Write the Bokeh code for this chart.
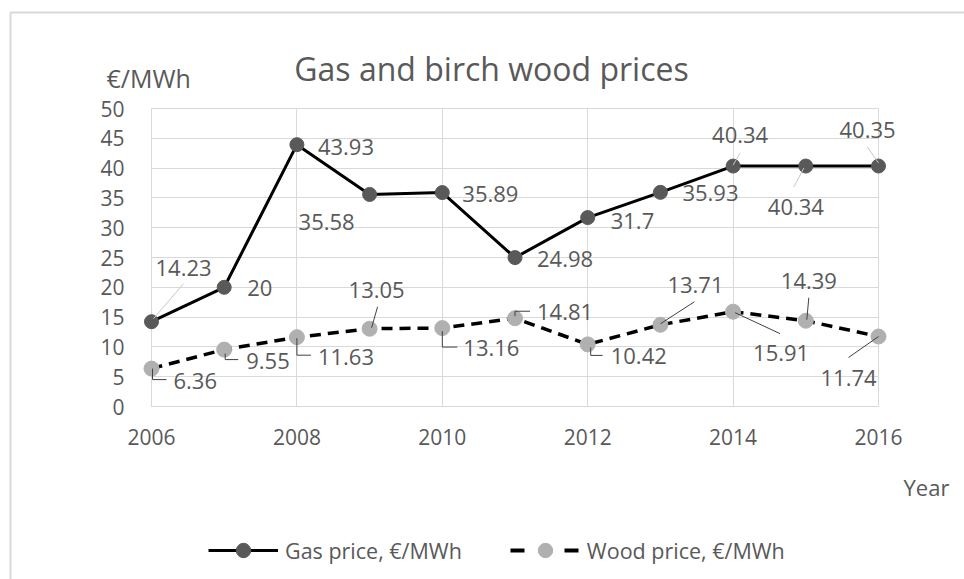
from bokeh.plotting import figure
from bokeh.models import (ColumnDataSource, LabelSet, Label, Legend, LegendItem,
                          FixedTicker, Range1d, Grid)
from bokeh.core.properties import value
from bokeh.embed import file_html
from bokeh.resources import INLINE

# ---------------- data ----------------
years = [2006, 2007, 2008, 2009, 2010, 2011, 2012, 2013, 2014, 2015, 2016]
gas_price = [14.23, 20, 43.93, 35.58, 35.89, 24.98, 31.7, 35.93, 40.34, 40.34, 40.35]
wood_price = [6.36, 9.55, 11.63, 13.05, 13.16, 14.81, 10.42, 13.71, 15.91, 14.39, 11.74]
x_ticks = [2006, 2008, 2010, 2012, 2014, 2016]
y_ticks = [0, 5, 10, 15, 20, 25, 30, 35, 40, 45, 50]
title_text = "Gas and birch wood prices"
y_unit_text = "€/MWh"
x_unit_text = "Year"
gas_name = "Gas price, €/MWh"
wood_name = "Wood price, €/MWh"

# ---------------- layout (pixels) ----------------
W, H = 964, 579
X0, X1, Y0, Y1 = 2006, 2016, 0, 50
PL, PR, PT, PB = 151, 878, 108, 406          # plot-area edges on the page
PX = (PR - PL) / (X1 - X0)
PY = (PB - PT) / (Y1 - Y0)
TXT = "#595959"
GRID = "#d9d9d9"
FONT = "Open Sans"

def fx(page_x):
    return X0 + (page_x - PL) / PX

def fy(page_y):
    return Y0 + (PB - page_y) / PY

# label offsets (dx to left edge, dy to baseline; screen px, down positive)
gas_off = [(4, -46), (23, 9), (21, 10), (-71, 36), (20, 9), (22, 9),
           (23, 11), (22, 9), (-21, -23), (-38, 49), (-39, -28)]
wood_off = [(22, 20), (22, 19), (21, 28), (-21, -31), (21, 28), (22, 2),
            (23, 20), (7, -32), (20, 49), (-25, -32), (-58, 49)]
# leader paths (screen px relative to point, down positive)
gas_lead = {0: [(2, -3), (32, -38)], 8: [(7, -13), (0, -1)],
            9: [(-2, 2), (-12, 21)], 10: [(-11, -19), (0, -3)]}
wood_lead = {0: [(1, 0), (1, 11), (15, 11)], 1: [(1, 4), (1, 10), (14, 10)],
             2: [(0, 1), (0, 18), (14, 18)], 3: [(8, -22), (2, -1)],
             4: [(0, 3), (0, 19), (15, 19)], 5: [(0, -2), (0, -7), (15, -7)],
             6: [(3, 3), (3, 11), (15, 11)], 7: [(34, -23), (0, -1)],
             8: [(2, 1), (47, 22)], 9: [(3, -23), (1, -1)], 10: [(-30, 21), (0, 0)]}

p = figure(width=W, height=H, output_backend="svg", toolbar_location=None,
           x_range=Range1d(fx(0), fx(W)), y_range=Range1d(fy(H), fy(0)),
           min_border=0)
p.outline_line_color = None
p.background_fill_color = "white"
p.border_fill_color = "white"

# axes (drawn at the plot-area edges inside the full-canvas frame)
for ax in (p.xaxis, p.yaxis):
    ax.major_tick_line_color = None
    ax.minor_tick_line_color = None
    ax.major_label_text_font = FONT
    ax.major_label_text_font_size = "21px"
    ax.major_label_text_color = TXT
p.xaxis.ticker = FixedTicker(ticks=x_ticks)
p.yaxis.ticker = FixedTicker(ticks=y_ticks)
p.xaxis.fixed_location = Y0
p.yaxis.fixed_location = X0
p.xaxis.bounds = (X0, X1)
p.yaxis.bounds = (Y0, Y1)
p.xaxis.axis_line_color = GRID
p.yaxis.axis_line_color = None
p.xaxis.major_label_standoff = 16
p.yaxis.major_label_standoff = 21

# grid limited to the plot area
if "cross_bounds" in Grid.properties():
    p.xgrid.grid_line_color = GRID
    p.ygrid.grid_line_color = GRID
    p.xgrid.bounds = (X0, X1)
    p.ygrid.bounds = (Y0, Y1)
    p.xgrid.cross_bounds = (Y0, Y1)
    p.ygrid.cross_bounds = (X0, X1)
else:
    p.xgrid.grid_line_color = None
    p.ygrid.grid_line_color = None
    p.segment(x0=x_ticks, y0=[Y0] * len(x_ticks), x1=x_ticks, y1=[Y1] * len(x_ticks),
              line_color=GRID, line_width=1)
    p.segment(x0=[X0] * len(y_ticks), y0=y_ticks, x1=[X1] * len(y_ticks), y1=y_ticks,
              line_color=GRID, line_width=1)

# chart border (left and top edges of the chart box; the rest lies off the page)
p.line(x=[fx(10), fx(10), fx(W + 20)], y=[fy(H + 20), fy(12), fy(12)],
       line_color=GRID, line_width=2, level="underlay")

# series
wood_line = p.line(years, wood_price, line_width=3.5, line_color="black", line_dash="11 7")
wood_pts = p.scatter(years, wood_price, size=15, fill_color="#b0b0b0", line_color="#b0b0b0")
gas_line = p.line(years, gas_price, line_width=3, line_color="black")
gas_pts = p.scatter(years, gas_price, size=14, fill_color="#595959", line_color="#595959")
nan = float("nan")
wood_leg_line = p.line([nan, nan], [nan, nan], line_width=4, line_color="black",
                       line_dash="14 40")

# leader lines
def leaders(vals, lead, color):
    xs, ys = [], []
    for i, path in lead.items():
        xs.append([years[i] + dx / PX for dx, dy in path])
        ys.append([vals[i] - dy / PY for dx, dy in path])
    p.multi_line(xs, ys, line_color=color, line_width=1)

leaders(gas_price, gas_lead, "#c8c8c8")
leaders(wood_price, wood_lead, "#404040")

# data labels
def data_labels(vals, offs):
    src = ColumnDataSource(dict(
        x=years, y=vals, label=[f"{v:g}" for v in vals],
        dx=[o[0] for o in offs], dy=[-o[1] for o in offs]))
    ls = LabelSet(x="x", y="y", text="label", source=src, x_offset="dx", y_offset="dy",
                  text_font=value(FONT), text_font_size="22px", text_color=TXT,
                  text_align="left", text_baseline="alphabetic")
    p.add_layout(ls)

data_labels(gas_price, gas_off)
data_labels(wood_price, wood_off)

# texts
p.add_layout(Label(x=fx(491), y=fy(68), text=title_text, text_align="center",
                   text_baseline="alphabetic", text_font=FONT, text_font_size="32px",
                   text_color=TXT))
p.add_layout(Label(x=fx(106), y=fy(77), text=y_unit_text, text_align="left",
                   text_baseline="alphabetic", text_font=FONT, text_font_size="25px",
                   text_color=TXT))
p.add_layout(Label(x=fx(903), y=fy(486), text=x_unit_text, text_align="left",
                   text_baseline="alphabetic", text_font=FONT, text_font_size="22px",
                   text_color=TXT))

legend = Legend(items=[LegendItem(label=gas_name, renderers=[gas_line, gas_pts]),
                       LegendItem(label=wood_name, renderers=[wood_leg_line, wood_pts])],
                orientation="horizontal", location=(208, 11),
                glyph_width=70, glyph_height=36, label_height=36, label_standoff=7,
                spacing=48, padding=0, margin=0, border_line_color=None,
                background_fill_alpha=0, label_text_font=FONT,
                label_text_font_size="21.5px", label_text_color=TXT)
p.add_layout(legend)

open("out.html", "w").write(file_html(p, INLINE))
